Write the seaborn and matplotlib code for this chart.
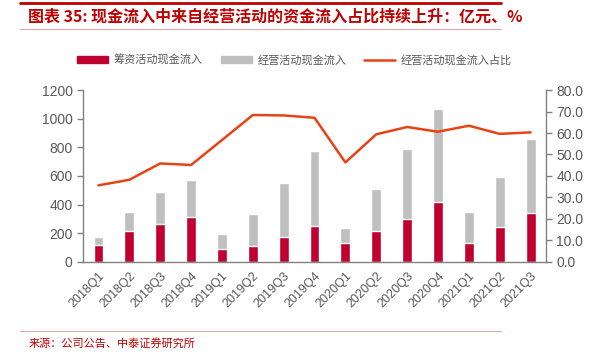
import numpy as np
import pandas as pd
import seaborn as sns
import matplotlib.pyplot as plt
from matplotlib.lines import Line2D
from matplotlib.patches import Patch

sns.set_style("white")
plt.rcParams['font.family'] = ['Liberation Sans', 'Noto Sans CJK SC', 'DejaVu Sans']

# data (亿元, %)
quarters = ['2018Q1', '2018Q2', '2018Q3', '2018Q4', '2019Q1', '2019Q2', '2019Q3', '2019Q4',
            '2020Q1', '2020Q2', '2020Q3', '2020Q4', '2021Q1', '2021Q2', '2021Q3']
financing = [116, 216, 267, 316, 88, 111, 174, 252, 128, 214, 296, 419, 128, 243, 338]
operating = [58, 130, 220, 253, 107, 226, 379, 522, 108, 296, 492, 650, 219, 349, 520]
ratio = [35.6, 38.2, 45.8, 45.1, 56.7, 68.4, 68.2, 67.1, 46.3, 59.4, 62.8, 60.6, 63.4, 59.6, 60.3]

df = pd.DataFrame({'quarter': quarters, 'financing': financing, 'operating': operating})
df['total'] = df['financing'] + df['operating']

red = '#C0002F'
grey = '#BFBFBF'
orange = '#E84315'
txt = '#595959'
axc = '#808080'

fig = plt.figure(figsize=(5.89, 3.52), dpi=100)
ax = fig.add_axes([0.141, 0.2565, 0.786, 0.4875])

sns.barplot(data=df, x='quarter', y='total', color=grey, width=0.32, ax=ax, saturation=1)
sns.barplot(data=df, x='quarter', y='financing', color=red, width=0.32, ax=ax, saturation=1)

ax.set_xlim(-0.5, len(quarters) - 0.5)
ax.set_ylim(0, 1200)
ax.set_yticks(range(0, 1201, 200))
ax.set_xlabel('')
ax.set_ylabel('')
ax.set_xticks(range(len(quarters)))
ax.set_xticklabels(quarters, rotation=45, ha='right', rotation_mode='anchor', fontsize=9, color=txt)
ax.set_xticks(np.arange(-0.5, len(quarters), 1), minor=True)
ax.tick_params(axis='x', which='major', length=0, pad=6)
ax.tick_params(axis='x', which='minor', length=4, color=axc, width=1, direction='out')
ax.tick_params(axis='y', length=4, color=axc, width=1, direction='out', labelsize=10, labelcolor=txt)
ax.tick_params(left=True, bottom=True)
for s in ['left', 'bottom']:
    ax.spines[s].set_color(axc)
    ax.spines[s].set_linewidth(1)
ax.spines['top'].set_visible(False)
ax.spines['right'].set_visible(False)

ax2 = ax.twinx()
sns.lineplot(x=quarters, y=ratio, color=orange, linewidth=1.8, ax=ax2, sort=False)
ax2.set_ylim(0, 80)
ax2.set_yticks(range(0, 81, 10))
ax2.set_yticklabels([f'{v:.1f}' for v in range(0, 81, 10)])
ax2.set_xlim(-0.5, len(quarters) - 0.5)
ax2.tick_params(axis='y', length=4, color=axc, width=1, direction='out', labelsize=10, labelcolor=txt, right=True)
ax2.spines['right'].set_color(axc)
ax2.spines['right'].set_linewidth(1)
for s in ['top', 'left', 'bottom']:
    ax2.spines[s].set_visible(False)

# legend
handles = [Patch(color=red), Patch(color=grey), Line2D([0], [0], color=orange, lw=1.8)]
labels = ['筹资活动现金流入', '经营活动现金流入', '经营活动现金流入占比']
fig.legend(handles, labels, loc='center', bbox_to_anchor=(0.5, 0.83), ncol=3, frameon=False,
           prop={'family': ['Noto Sans CJK SC'], 'size': 8}, labelcolor=txt,
           handlelength=2.8, handleheight=0.6, columnspacing=1.6, handletextpad=0.5)

# title block and source
fig.add_artist(Line2D([0.034, 0.85], [0.991, 0.991], color='#C00000', lw=2))
fig.add_artist(Line2D([0.034, 0.85], [0.918, 0.918], color='#E8A0A0', lw=0.7))
fig.text(0.048, 0.953, '图表 35: 现金流入中来自经营活动的资金流入占比持续上升：亿元、%',
         color='#C00000', fontsize=11.5, fontweight='bold', va='center',
         family=['Noto Sans CJK SC', 'DejaVu Sans'])
fig.add_artist(Line2D([0.034, 0.85], [0.06, 0.06], color='#E8A0A0', lw=0.7))
fig.text(0.048, 0.025, '来源：公司公告、中泰证券研究所', color='#C00000', fontsize=8, va='center',
         family=['Noto Sans CJK SC', 'DejaVu Sans'])

fig.savefig('out.png', dpi=100)
